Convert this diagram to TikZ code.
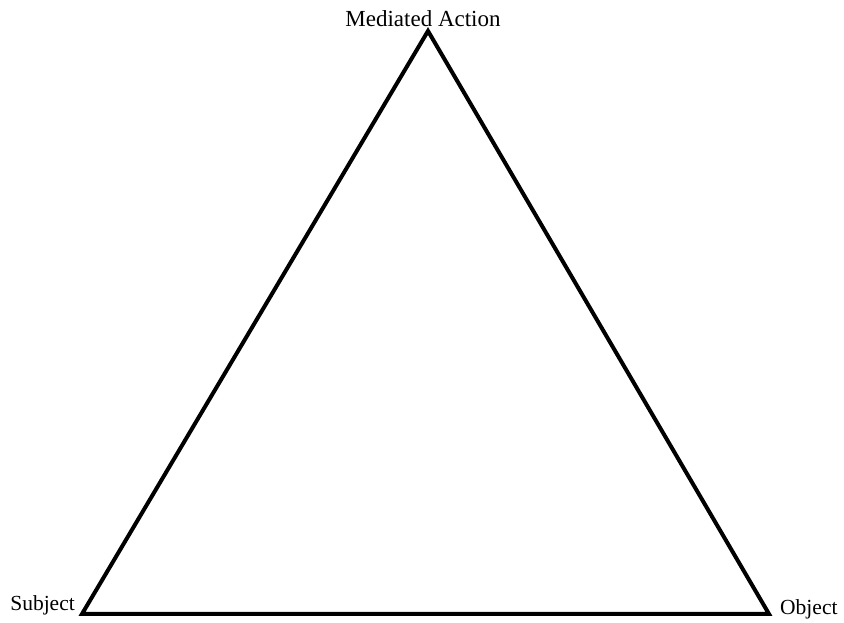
\documentclass[tikz,border=0pt]{standalone}
\usepackage{fontspec}
\setmainfont{Liberation Serif}
\usepackage{xcolor}
\usepackage{tikz}
\definecolor{TRLine}{HTML}{000000}
\tikzset{
  corner/.style={inner sep=0pt,minimum size=0pt},
  cornerlabel/.style={inner sep=0pt,font=\fontsize{21.5}{24}\selectfont},
  toplabel/.style={cornerlabel,font=\fontsize{23}{26}\selectfont}
}
\begin{document}
\begin{tikzpicture}[x=1pt,y=1pt]
\path[use as bounding box] (0,0) rectangle (844,623);
% corners of the triangle
\coordinate (action) at (428,592);
\coordinate (subject) at (82,9);
\coordinate (object) at (769,9);
\draw[TRLine,line width=4pt] (action) -- (subject) -- (object) -- cycle;
% labels
\node[toplabel,anchor=base] (actionlabel) at (423,596) {Mediated Action};
\node[cornerlabel,anchor=base east] (subjectlabel) at (75,12) {Subject};
\node[cornerlabel,anchor=base west] (objectlabel) at (780,8) {Object};
\end{tikzpicture}
\end{document}
